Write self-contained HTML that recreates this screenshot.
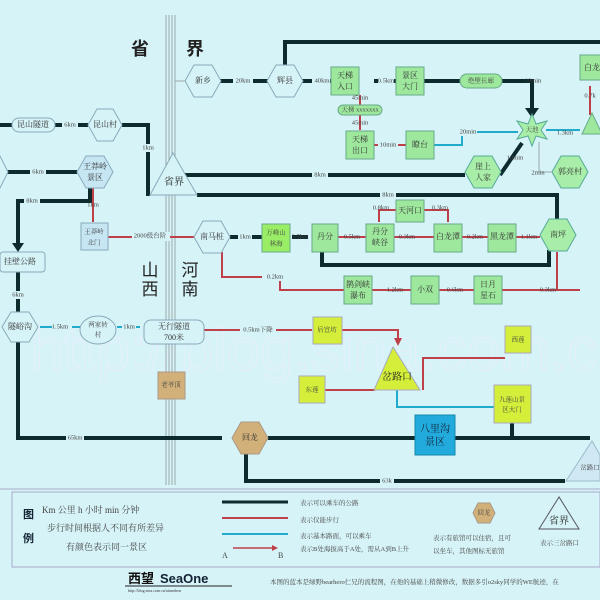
<!DOCTYPE html>
<html><head><meta charset="utf-8"><style>
body{margin:0;background:#d6f3f7}
svg{display:block;font-family:"Liberation Serif","Noto Serif CJK SC","Noto Sans CJK SC",serif}
.t{font-size:8px;fill:#333;text-anchor:middle;dominant-baseline:middle}
.s{font-size:6.5px;fill:#444;text-anchor:middle;dominant-baseline:middle}
.b{stroke:#0d2a2c;stroke-width:4;fill:none}
.r{stroke:#c0404a;stroke-width:2;fill:none}
.c{stroke:#22aacc;stroke-width:2;fill:none}
.g{stroke:#99aaaa;stroke-width:1;fill:none}
.hx{fill:#a8eea8;stroke:#5a9;stroke-width:1}
.hw{fill:#d6f3f7;stroke:#8ab;stroke-width:1}
.rc{fill:#9ee89e;stroke:#6a8;stroke-width:1}
.yl{fill:#d4ee3a;stroke:#aab;stroke-width:1}
.lb{fill:#d6f3f7}
</style></head><body>
<svg width="600" height="600" viewBox="0 0 600 600">
<!-- watermark -->
<text x="30" y="370" font-family="Liberation Sans,sans-serif" font-size="60" fill="none" stroke="#eef" stroke-width="1.2" opacity="0.6">http://blog.sina.com.cn/aimeshe</text>
<!-- province line -->
<g stroke="#9aa" stroke-width="1"><line x1="166" y1="15" x2="166" y2="485"/><line x1="169" y1="15" x2="169" y2="485"/><line x1="172" y1="15" x2="172" y2="485"/><line x1="175" y1="15" x2="175" y2="485"/></g>
<text x="140" y="55" font-size="18" font-weight="bold" fill="#222" text-anchor="middle" font-family="Noto Sans CJK SC,sans-serif">省</text>
<text x="195" y="55" font-size="18" font-weight="bold" fill="#222" text-anchor="middle" font-family="Noto Sans CJK SC,sans-serif">界</text>
<g font-size="17" fill="#222" text-anchor="middle" font-family="Noto Sans CJK SC,sans-serif"><text x="150" y="276">山</text><text x="150" y="295">西</text><text x="190" y="276">河</text><text x="190" y="295">南</text></g>

<!-- black roads -->
<path class="b" d="M285 65 V42 H600"/>
<path class="b" d="M220 81 H268"/><path class="b" d="M302 81 H331"/><path class="b" d="M374 81 H396"/><path class="b" d="M424 81 H460"/>
<path class="b" d="M501 81 H532 V110"/><polygon points="525,108 539,108 532,118" fill="#0d2a2c"/>
<polygon points="462,75 472,81 462,87" fill="#0d2a2c"/>
<path class="b" d="M0 125 H12"/><path class="b" d="M55 125 H88"/><path class="b" d="M122 125 H148 V196"/>
<path class="b" d="M0 172 H77"/><path class="b" d="M90 188 V201 H18 V245"/><polygon points="12,243 24,243 18,252" fill="#0d2a2c"/>
<path class="b" d="M185 175 H465"/><path class="b" d="M197 195 H557 V220"/>
<path class="b" d="M522 143 L500 175"/>
<path class="b" d="M230 237 H262"/><path class="b" d="M292 237 H308"/>
<path class="b" d="M322 252 V265 H549 V250"/>
<path class="b" d="M18 270 V312"/><path class="b" d="M18 342 V438 H222"/>
<path class="b" d="M268 438 H590"/><path class="b" d="M246 452 V481 H565"/>
<path class="b" d="M512 423 V438"/>
<!-- red -->
<path class="r" d="M194 237 H108"/><polygon points="108,233 100,237 108,241" fill="#c0404a"/>
<path class="r" d="M93 222 V185"/><polygon points="89,187 93,179 97,187" fill="#c0404a"/>
<path class="r" d="M222 252 V277 H280 V290 H580"/>
<path class="r" d="M557 252 V290"/>
<path class="r" d="M338 237 H366"/><path class="r" d="M394 237 H434"/><path class="r" d="M462 237 H488"/><path class="r" d="M516 237 H540"/>
<path class="r" d="M379 222 V210 H396"/><path class="r" d="M424 210 H448 V222"/>
<path class="r" d="M374 145 H406"/><path class="r" d="M360 95 V130"/>
<path class="r" d="M590 86 V115"/>
<path class="r" d="M204 330 H312"/><path class="r" d="M342 330 H398 V340"/><polygon points="394,338 398,346 402,338" fill="#c0404a"/>
<path class="r" d="M325 390 H375"/><path class="r" d="M423 390 V358 H505"/>
<!-- cyan -->
<path class="c" d="M40 327 H80"/><path class="c" d="M117 327 H140"/>
<path class="c" d="M434 145 H462 V132 H518"/><path class="c" d="M546 130 H580"/>
<path class="c" d="M397 390 V407 H495"/>
<path class="g" d="M175 81 H185"/><path class="g" d="M539 142 V172 H552"/>

<!-- labels on lines -->
<g class="s">
<rect class="lb" x="233" y="77" width="20" height="8"/><text x="243" y="81">20km</text>
<rect class="lb" x="312" y="77" width="18" height="8"/><text x="322" y="81">40km</text>
<rect class="lb" x="378" y="77" width="16" height="8"/><text x="386" y="81">0.5km</text>
<text x="533" y="81" fill="#333">10min</text>
<text x="360" y="98">45min</text><text x="360" y="123">45min</text>
<rect class="lb" x="378" y="141" width="20" height="8"/><text x="388" y="145">10min</text>
<rect class="lb" x="459" y="128" width="18" height="8"/><text x="468" y="132">20min</text>
<text x="565" y="133">1.3km</text><text x="590" y="96">0.7k</text>
<text x="515" y="158">10min</text><text x="538" y="173">2min</text>
<rect class="lb" x="62" y="121" width="16" height="8"/><text x="70" y="125">6km</text>
<rect class="lb" x="140" y="144" width="16" height="8"/><text x="148" y="148">1km</text>
<rect class="lb" x="30" y="168" width="16" height="8"/><text x="38" y="172">6km</text>
<rect class="lb" x="24" y="197" width="16" height="8"/><text x="32" y="201">8km</text>
<text x="93" y="205">1km</text>
<rect class="lb" x="132" y="232" width="38" height="9"/><text x="150" y="236">2000级台阶</text>
<rect class="lb" x="238" y="233" width="14" height="8"/><text x="245" y="237">1km</text>
<text x="300" y="237">3.5km</text>
<text x="352" y="237">0.5km</text><text x="407" y="237">0.3km</text><text x="475" y="237">0.2km</text><text x="529" y="237">1.1km</text>
<text x="381" y="208">0.8km</text><text x="440" y="208">0.3km</text>
<rect class="lb" x="380" y="191" width="16" height="8"/><text x="388" y="195">8km</text>
<rect class="lb" x="312" y="171" width="16" height="8"/><text x="320" y="175">8km</text>
<rect class="lb" x="262" y="273" width="20" height="8"/><text x="275" y="277">0.2km</text>
<text x="395" y="290">1.2km</text><text x="455" y="290">0.6km</text><text x="548" y="290">0.3km</text>
<rect class="lb" x="10" y="291" width="16" height="8"/><text x="18" y="295">6km</text>
<rect class="lb" x="52" y="323" width="20" height="8"/><text x="60" y="327">1.5km</text>
<rect class="lb" x="122" y="323" width="14" height="8"/><text x="129" y="327">1km</text>
<rect class="lb" x="240" y="326" width="36" height="8"/><text x="258" y="330">0.5km下降</text>
<rect class="lb" x="66" y="434" width="18" height="8"/><text x="75" y="438">65km</text>
<rect class="lb" x="380" y="477" width="14" height="8"/><text x="387" y="481">63k</text>
</g>

<!-- nodes -->
<polygon class="hw" points="185,81 194,65 212,65 221,81 212,97 194,97"/><text class="t" x="203" y="81">新乡</text>
<polygon class="hw" points="267,81 276,65 294,65 303,81 294,97 276,97"/><text class="t" x="285" y="81">辉县</text>
<rect class="rc" x="331" y="67" width="28" height="28"/><text class="t" x="345" y="76">天梯</text><text class="t" x="345" y="87">入口</text>
<rect class="rc" x="396" y="67" width="28" height="28"/><text class="t" x="410" y="76">景区</text><text class="t" x="410" y="87">大门</text>
<rect class="rc" x="460" y="74" width="42" height="14" rx="7"/><text class="s" x="481" y="81">绝壁长廊</text>
<rect class="rc" x="338" y="105" width="44" height="10" rx="5"/><text class="s" x="360" y="110" font-size="4">天梯 xxxxxxx</text>
<rect class="rc" x="346" y="131" width="28" height="28"/><text class="t" x="360" y="140">天梯</text><text class="t" x="360" y="151">出口</text>
<rect class="rc" x="406" y="131" width="28" height="28"/><text class="t" x="420" y="145">瞭台</text>
<polygon class="hx" points="532,114 536,124 547,121 541,130 547,139 536,136 532,146 528,136 517,139 523,130 517,121 528,124"/><text class="s" x="532" y="130">天池</text>
<rect class="rc" x="580" y="55" width="25" height="25"/><text class="t" x="592" y="68">白龙</text>
<polygon class="rc" points="592,113 582,134 602,134"/>
<polygon class="hx" points="465,172 474,156 492,156 501,172 492,188 474,188"/><text class="t" x="483" y="167">崖上</text><text class="t" x="483" y="178">人家</text>
<polygon class="hx" points="552,172 561,156 579,156 588,172 579,188 561,188"/><text class="t" x="570" y="172">郭亮村</text>
<rect class="hw" x="12" y="118" width="43" height="14" rx="7"/><text class="t" x="33" y="125">昆山隧道</text>
<polygon class="hw" points="88,125 97,109 113,109 122,125 113,141 97,141"/><text class="t" x="105" y="125">昆山村</text>
<polygon class="hw" points="-10,172 -1,156 0,156 8,172 0,188 -1,188"/>
<polygon points="77,172 86,156 104,156 113,172 104,188 86,188" fill="#c6e6f3" stroke="#8ab"/><text class="t" x="95" y="167">王莽岭</text><text class="t" x="95" y="178">景区</text>
<polygon points="173,153 150,195 197,195" fill="#d6f3f7" stroke="#8ab"/><text x="174" y="185" font-size="10" fill="#222" text-anchor="middle">省界</text>
<rect x="81" y="223" width="27" height="27" fill="#c6e6f3" stroke="#8ab"/><text class="s" x="94" y="232">王莽岭</text><text class="s" x="94" y="243">北门</text>
<polygon class="hw" points="194,237 203,221 221,221 230,237 221,253 203,253"/><text class="t" x="212" y="237">南马桩</text>
<rect x="262" y="224" width="28" height="28" fill="#99ee66" stroke="#6a8"/><text class="s" x="276" y="233">万峰山</text><text class="s" x="276" y="244">林海</text>
<rect class="rc" x="312" y="224" width="26" height="28"/><text class="t" x="325" y="237">丹分</text>
<rect class="rc" x="366" y="224" width="28" height="28"/><text class="t" x="380" y="232">丹分</text><text class="t" x="380" y="243">峡谷</text>
<rect class="rc" x="396" y="200" width="28" height="22"/><text class="t" x="410" y="211">天河口</text>
<rect class="rc" x="434" y="224" width="28" height="28"/><text class="t" x="448" y="237">白龙潭</text>
<rect class="rc" x="488" y="224" width="28" height="28"/><text class="t" x="502" y="237">黑龙潭</text>
<polygon class="hx" points="540,235 549,219 567,219 576,235 567,251 549,251"/><text class="t" x="558" y="235">南坪</text>
<rect class="rc" x="344" y="276" width="28" height="28"/><text class="t" x="358" y="285">鹊剑峡</text><text class="t" x="358" y="296">瀑布</text>
<rect class="rc" x="411" y="276" width="28" height="28"/><text class="t" x="425" y="290">小双</text>
<rect class="rc" x="474" y="276" width="28" height="28"/><text class="t" x="488" y="285">日月</text><text class="t" x="488" y="296">星石</text>
<rect class="hw" x="0" y="252" width="45" height="20" rx="3"/><text class="t" x="20" y="262">挂壁公路</text>
<polygon class="hw" points="2,327 11,312 29,312 38,327 29,342 11,342"/><text class="t" x="20" y="327">隧峪沟</text>
<ellipse class="hw" cx="98" cy="330" rx="18" ry="14"/><text class="s" x="98" y="325">两家转</text><text class="s" x="98" y="335">村</text>
<rect class="hw" x="144" y="320" width="60" height="24" rx="7"/><text class="t" x="174" y="327">无行隧道</text><text class="t" x="174" y="338">700米</text>
<rect class="yl" x="313" y="317" width="29" height="27"/><text class="s" x="327" y="330">后宣坊</text>
<rect x="158" y="372" width="27" height="27" fill="#d2b07a" stroke="#a98"/><text class="s" x="171" y="385">老爷顶</text>
<polygon class="yl" points="393,347 374,390 420,390"/><text x="397" y="380" font-size="10" fill="#222" text-anchor="middle">岔路口</text>
<rect class="yl" x="299" y="376" width="26" height="27"/><text class="s" x="312" y="390">东莲</text>
<rect class="yl" x="505" y="326" width="26" height="27"/><text class="s" x="518" y="340">西莲</text>
<rect class="yl" x="494" y="385" width="37" height="38"/><text class="s" x="512" y="400">九莲山景</text><text class="s" x="512" y="410">区大门</text>
<rect x="415" y="415" width="40" height="40" fill="#22aadd" stroke="#18a"/><text x="435" y="432" font-size="10" fill="#123" text-anchor="middle">八里沟</text><text x="435" y="445" font-size="10" fill="#123" text-anchor="middle">景区</text>
<polygon points="232,438 241,422 259,422 268,438 259,454 241,454" fill="#d2b07a" stroke="#a98"/><text class="t" x="250" y="438">回龙</text>
<polygon points="592,441 566,481 600,481 600,455" fill="#cfe8f4" stroke="#9bc"/><text class="s" x="590" y="468">岔路口</text>

<!-- legend -->
<line x1="0" y1="489" x2="600" y2="489" stroke="#aac" stroke-width="1"/>
<rect x="12" y="492" width="588" height="75" fill="none" stroke="#aac"/>
<text x="23" y="518" font-size="11" font-weight="bold" fill="#123" font-family="Noto Sans CJK SC,sans-serif">图</text>
<text x="23" y="542" font-size="11" font-weight="bold" fill="#123" font-family="Noto Sans CJK SC,sans-serif">例</text>
<g font-size="9" fill="#444"><text x="42" y="513">Km 公里    h 小时   min 分钟</text>
<text x="47" y="531">步行时间根据人不同有所差异</text><text x="66" y="550">有颜色表示同一景区</text></g>
<line x1="222" y1="502" x2="288" y2="502" stroke="#0d2a2c" stroke-width="3"/>
<line x1="222" y1="518" x2="288" y2="518" stroke="#c0404a" stroke-width="2"/>
<line x1="222" y1="534" x2="288" y2="534" stroke="#22aacc" stroke-width="2"/>
<line x1="233" y1="548" x2="272" y2="548" stroke="#c0404a" stroke-width="1.5"/><polygon points="272,545 278,548 272,551" fill="#c0404a"/>
<text x="222" y="558" font-size="8" fill="#444">A</text><text x="278" y="558" font-size="8" fill="#444">B</text>
<g font-size="6.5" fill="#444"><text x="300" y="505">表示可以乘车的公路</text><text x="300" y="522">表示仅能步行</text><text x="300" y="538">表示基本路面，可以乘车</text><text x="300" y="551">表示B处海拔高于A处，需从A到B上升</text>
<text x="433" y="540">表示有旅馆可以住宿，且可</text><text x="433" y="553">以坐车，其他图标无旅馆</text><text x="540" y="545">表示三岔路口</text></g>
<polygon points="473,513 478,503 490,503 495,513 490,523 478,523" fill="#d2b07a" stroke="#a98"/><text class="s" x="484" y="513">回龙</text>
<polygon points="559,497 539,529 579,529" fill="none" stroke="#556"/><text x="559" y="524" font-size="10" fill="#222" text-anchor="middle">省界</text>
<!-- footer -->
<text x="128" y="583" font-size="13" font-weight="bold" fill="#111" font-family="Noto Sans CJK SC,sans-serif">西望</text>
<text x="160" y="583" font-size="13" font-weight="bold" fill="#123" font-family="Liberation Sans,sans-serif">SeaOne</text>
<line x1="125" y1="586" x2="232" y2="586" stroke="#222"/>
<text x="128" y="592" font-size="4" fill="#333">http://blog.sina.com.cn/aimeshen</text>
<text x="270" y="584" font-size="6.5" fill="#444">本图的蓝本是绿野bearhero仁兄的流程图，在他的基础上稍微修改，数据多引o2sky同学的WE航迹，在</text>
</svg>
</body></html>
